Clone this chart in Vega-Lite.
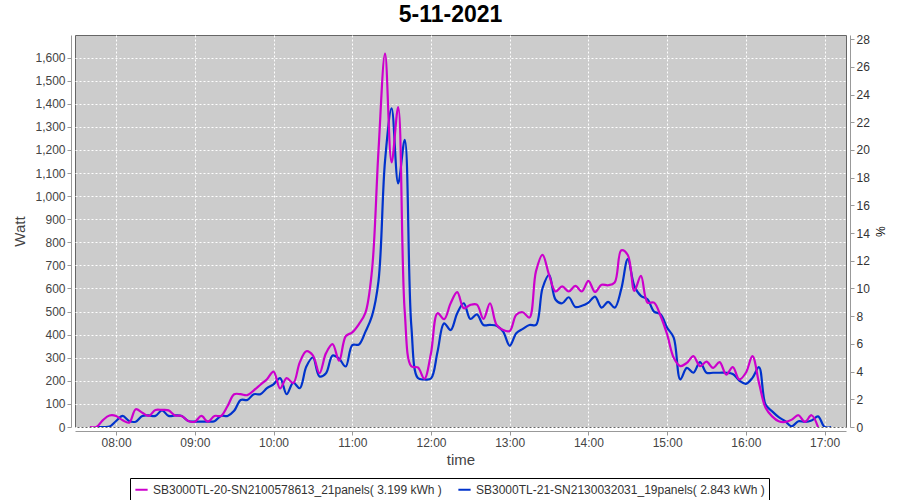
{
  "$schema": "https://vega.github.io/schema/vega-lite/v6.json",
  "width": 771,
  "height": 392,
  "autosize": {"type": "none"},
  "padding": {"left": 75, "top": 35, "right": 54, "bottom": 73},
  "background": "white",
  "title": {"text": "5-11-2021", "font": "Liberation Sans", "fontSize": 23, "fontWeight": "bold", "color": "black", "anchor": "middle", "offset": 6, "dx": -10},
  "config": {
    "view": {"fill": "#cccccc", "stroke": "#666666", "strokeWidth": 1},
    "axis": {"labelFont": "Liberation Sans", "titleFont": "Liberation Sans", "labelFontSize": 12, "labelColor": "#444444", "titleColor": "#444444", "titleFontWeight": "normal", "domainColor": "#999999", "tickColor": "#999999", "tickSize": 4, "gridColor": "#ffffff", "gridDash": [2, 2], "gridWidth": 1, "gridOpacity": 1}
  },
  "layer": [
    {
      "data": {
        "values": [
          {"t": "07:40", "m": 0, "b": null},
          {"t": "07:45", "m": 0, "b": 0},
          {"t": "07:50", "m": 30, "b": 0},
          {"t": "07:55", "m": 50, "b": 2},
          {"t": "08:00", "m": 48, "b": 26},
          {"t": "08:05", "m": 29, "b": 48},
          {"t": "08:10", "m": 19, "b": 26},
          {"t": "08:15", "m": 77, "b": 23},
          {"t": "08:20", "m": 62, "b": 48},
          {"t": "08:25", "m": 48, "b": 50},
          {"t": "08:30", "m": 74, "b": 48},
          {"t": "08:35", "m": 74, "b": 72},
          {"t": "08:40", "m": 72, "b": 48},
          {"t": "08:45", "m": 50, "b": 50},
          {"t": "08:50", "m": 48, "b": 48},
          {"t": "08:55", "m": 26, "b": 26},
          {"t": "09:00", "m": 23, "b": 23},
          {"t": "09:05", "m": 48, "b": 23},
          {"t": "09:10", "m": 23, "b": 23},
          {"t": "09:15", "m": 48, "b": 25},
          {"t": "09:20", "m": 48, "b": 48},
          {"t": "09:25", "m": 91, "b": 48},
          {"t": "09:30", "m": 142, "b": 70},
          {"t": "09:35", "m": 142, "b": 117},
          {"t": "09:40", "m": 138, "b": 117},
          {"t": "09:45", "m": 159, "b": 142},
          {"t": "09:50", "m": 183, "b": 142},
          {"t": "09:55", "m": 207, "b": 168},
          {"t": "10:00", "m": 240, "b": 185},
          {"t": "10:05", "m": 167, "b": 212},
          {"t": "10:10", "m": 212, "b": 142},
          {"t": "10:15", "m": 190, "b": 192},
          {"t": "10:20", "m": 280, "b": 168},
          {"t": "10:25", "m": 328, "b": 262},
          {"t": "10:30", "m": 310, "b": 301},
          {"t": "10:35", "m": 233, "b": 219},
          {"t": "10:40", "m": 320, "b": 233},
          {"t": "10:45", "m": 359, "b": 310},
          {"t": "10:50", "m": 287, "b": 296},
          {"t": "10:55", "m": 393, "b": 262},
          {"t": "11:00", "m": 410, "b": 355},
          {"t": "11:05", "m": 445, "b": 357},
          {"t": "11:10", "m": 494, "b": 412},
          {"t": "11:15", "m": 676, "b": 480},
          {"t": "11:20", "m": 1197, "b": 632},
          {"t": "11:25", "m": 1617, "b": 1154},
          {"t": "11:30", "m": 1146, "b": 1380},
          {"t": "11:35", "m": 1386, "b": 1055},
          {"t": "11:40", "m": 500, "b": 1244},
          {"t": "11:45", "m": 263, "b": 440},
          {"t": "11:50", "m": 258, "b": 212},
          {"t": "11:55", "m": 209, "b": 206},
          {"t": "12:00", "m": 320, "b": 210},
          {"t": "12:05", "m": 493, "b": 326},
          {"t": "12:10", "m": 467, "b": 449},
          {"t": "12:15", "m": 536, "b": 420},
          {"t": "12:20", "m": 584, "b": 493},
          {"t": "12:25", "m": 514, "b": 536},
          {"t": "12:30", "m": 529, "b": 468},
          {"t": "12:35", "m": 530, "b": 488},
          {"t": "12:40", "m": 468, "b": 442},
          {"t": "12:45", "m": 536, "b": 442},
          {"t": "12:50", "m": 442, "b": 439},
          {"t": "12:55", "m": 420, "b": 413},
          {"t": "13:00", "m": 416, "b": 352},
          {"t": "13:05", "m": 486, "b": 406},
          {"t": "13:10", "m": 497, "b": 425},
          {"t": "13:15", "m": 474, "b": 442},
          {"t": "13:20", "m": 674, "b": 442},
          {"t": "13:25", "m": 746, "b": 601},
          {"t": "13:30", "m": 659, "b": 659},
          {"t": "13:35", "m": 587, "b": 551},
          {"t": "13:40", "m": 609, "b": 536},
          {"t": "13:45", "m": 587, "b": 562},
          {"t": "13:50", "m": 611, "b": 520},
          {"t": "13:55", "m": 587, "b": 525},
          {"t": "14:00", "m": 633, "b": 539},
          {"t": "14:05", "m": 585, "b": 565},
          {"t": "14:10", "m": 616, "b": 517},
          {"t": "14:15", "m": 614, "b": 542},
          {"t": "14:20", "m": 626, "b": 517},
          {"t": "14:25", "m": 765, "b": 597},
          {"t": "14:30", "m": 745, "b": 727},
          {"t": "14:35", "m": 590, "b": 611},
          {"t": "14:40", "m": 655, "b": 568},
          {"t": "14:45", "m": 539, "b": 553},
          {"t": "14:50", "m": 539, "b": 500},
          {"t": "14:55", "m": 481, "b": 488},
          {"t": "15:00", "m": 401, "b": 430},
          {"t": "15:05", "m": 300, "b": 387},
          {"t": "15:10", "m": 264, "b": 206},
          {"t": "15:15", "m": 278, "b": 256},
          {"t": "15:20", "m": 307, "b": 235},
          {"t": "15:25", "m": 264, "b": 281},
          {"t": "15:30", "m": 283, "b": 235},
          {"t": "15:35", "m": 256, "b": 235},
          {"t": "15:40", "m": 281, "b": 235},
          {"t": "15:45", "m": 227, "b": 235},
          {"t": "15:50", "m": 259, "b": 230},
          {"t": "15:55", "m": 206, "b": 201},
          {"t": "16:00", "m": 235, "b": 187},
          {"t": "16:05", "m": 307, "b": 213},
          {"t": "16:10", "m": 191, "b": 259},
          {"t": "16:15", "m": 83, "b": 97},
          {"t": "16:20", "m": 46, "b": 68},
          {"t": "16:25", "m": 25, "b": 43},
          {"t": "16:30", "m": 22, "b": 25},
          {"t": "16:35", "m": 32, "b": 3},
          {"t": "16:40", "m": 51, "b": 25},
          {"t": "16:45", "m": 22, "b": 22},
          {"t": "16:50", "m": 51, "b": 28},
          {"t": "16:55", "m": 0, "b": 46},
          {"t": "17:00", "m": null, "b": 0},
          {"t": "17:05", "m": null, "b": 0}
        ],
        "format": {"parse": {"t": "utc:'%H:%M'"}}
      },
      "transform": [{"fold": ["b", "m"], "as": ["s", "w"]}],
      "mark": {"type": "line", "interpolate": "catmull-rom", "strokeWidth": 2.2, "clip": true},
      "encoding": {
        "x": {
          "field": "t", "type": "temporal",
          "scale": {"type": "utc", "domain": [{"year": 1900, "month": 1, "date": 1, "hours": 7, "minutes": 28, "seconds": 42, "utc": true}, {"year": 1900, "month": 1, "date": 1, "hours": 17, "minutes": 16, "seconds": 18, "utc": true}]},
          "axis": {"title": "time", "titleFontSize": 15, "format": "%H:%M", "tickCount": 10, "offset": 4, "grid": true, "labelPadding": 2, "titlePadding": 4}
        },
        "y": {
          "field": "w", "type": "quantitative",
          "scale": {"domain": [0, 1698], "nice": false},
          "axis": {"title": "Watt", "titleFontSize": 15, "format": ",d", "tickCount": 17, "offset": 4, "grid": true, "labelPadding": 2, "titlePadding": 7}
        },
        "color": {
          "field": "s", "type": "nominal",
          "scale": {"domain": ["m", "b"], "range": ["#cc00cc", "#0033cc"]},
          "legend": {
            "orient": "none", "legendX": 55, "legendY": 443, "direction": "horizontal", "title": null,
            "strokeColor": "black", "fillColor": "white", "padding": 4,
            "symbolType": "stroke", "symbolStrokeWidth": 2, "symbolSize": 150,
            "labelFont": "Liberation Sans", "labelFontSize": 12, "labelColor": "#333333", "labelLimit": 400, "columnPadding": 12, "labelOffset": 4,
            "labelExpr": "datum.label == 'm' ? 'SB3000TL-20-SN2100578613_21panels( 3.199 kWh )' : 'SB3000TL-21-SN2130032031_19panels( 2.843 kWh )'"
          }
        }
      }
    },
    {
      "data": {"values": [{"p": 0}, {"p": 28}]},
      "mark": {"type": "point", "opacity": 0},
      "encoding": {
        "y": {
          "field": "p", "type": "quantitative",
          "scale": {"domain": [0, 28.3], "nice": false},
          "axis": {"orient": "right", "title": "%", "titleFontSize": 12, "titleColor": "#000000", "labelColor": "#333333", "tickCount": 14, "offset": 4, "grid": false, "labelPadding": 2, "titlePadding": 3, "titleAngle": 90}
        }
      }
    }
  ],
  "resolve": {"scale": {"y": "independent"}}
}
